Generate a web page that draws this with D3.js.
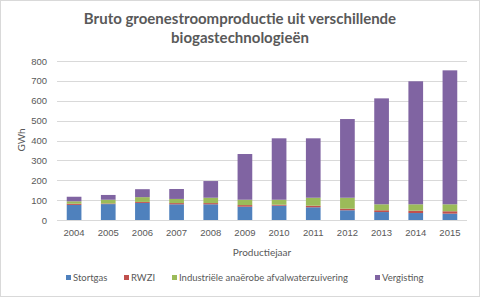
<!DOCTYPE html>
<html>
<head>
<meta charset="utf-8">
<script src="https://cdn.jsdelivr.net/npm/d3@7"></script>
<style>
  body { margin: 0; background: #fff; }
  svg { display: block; font-family: Lato, "Open Sans", sans-serif; }
</style>
</head>
<body>
<div id="chart"></div>
<script>
'use strict';

// values (GWh)
const years      = ['2004','2005','2006','2007','2008','2009','2010','2011','2012','2013','2014','2015'];
const stortgas   = [76, 80, 86, 79, 79, 67, 72, 64, 49, 40, 35, 32];
const rwzi       = [ 6,  3,  5,  6,  6,  8,  5,  8,  8,  9, 12, 12];
const industrie  = [12, 19, 24, 21, 27, 27, 25, 40, 55, 30, 32, 35];
const vergisting = [23, 24, 40, 50, 84, 230, 309, 299, 396, 533, 619, 674];
const seriesNames = ['Stortgas', 'RWZI', 'Industriële anaërobe afvalwaterzuivering', 'Vergisting'];
const yTicks = [0, 100, 200, 300, 400, 500, 600, 700, 800];

const colors = ['#4F81BD', '#C0504D', '#9BBB59', '#8064A2'];
const W = 480, H = 297;
const margin = {left: 57, right: 13, top: 61, bottom: 77};

const rows = years.map((y, i) => ({
    year: y,
    s0: stortgas[i], s1: rwzi[i], s2: industrie[i], s3: vergisting[i]
}));

const svg = d3.select('#chart').append('svg')
    .attr('width', W).attr('height', H);

svg.append('rect')
    .attr('x', 0.5).attr('y', 0.5)
    .attr('width', W - 1).attr('height', H - 1)
    .attr('fill', '#fff').attr('stroke', '#D9D9D9');

let x = d3.scaleBand().domain(years)
    .range([margin.left, W - margin.right])
    .paddingInner(0.57).paddingOuter(0.285);
let y = d3.scaleLinear().domain([0, 800])
    .range([H - margin.bottom, margin.top]);

// gridlines
svg.append('g')
    .selectAll('line')
    .data(yTicks)
    .enter()
    .append('line')
    .attr('x1', margin.left).attr('x2', W - margin.right)
    .attr('y1', d => Math.round(y(d)) + 0.5)
    .attr('y2', d => Math.round(y(d)) + 0.5)
    .attr('stroke', '#D9D9D9');

// stacked bars
let stack = d3.stack().keys(['s0', 's1', 's2', 's3'])(rows);

svg.append('g')
    .selectAll('g')
    .data(stack)
    .enter()
    .append('g')
    .attr('fill', (d, i) => colors[i])
    .selectAll('rect')
    .data(d => d)
    .enter()
    .append('rect')
    .attr('x', d => x(d.data.year))
    .attr('width', x.bandwidth())
    .attr('y', d => y(d[1]))
    .attr('height', d => y(d[0]) - y(d[1]));

// axes labels
let yAxis = svg.append('g')
    .attr('transform', `translate(${margin.left - 10},0)`)
    .call(d3.axisLeft(y).tickValues(yTicks).tickSize(0).tickPadding(0));
yAxis.select('.domain').remove();
yAxis.selectAll('text')
    .attr('fill', '#595959')
    .style('font-size', '9.5px');

let xAxis = svg.append('g')
    .attr('transform', `translate(0,${H - margin.bottom})`)
    .call(d3.axisBottom(x).tickSize(0).tickPadding(9));
xAxis.select('.domain').remove();
xAxis.selectAll('text')
    .attr('fill', '#595959')
    .style('font-size', '9.5px');

svg.append('text')
    .attr('transform', 'translate(25,140) rotate(-90)')
    .attr('text-anchor', 'middle')
    .attr('fill', '#595959')
    .style('font-size', '10px')
    .text('GWh');

svg.append('text')
    .attr('x', 262).attr('y', 256)
    .attr('text-anchor', 'middle')
    .attr('fill', '#595959')
    .style('font-size', '10px')
    .text('Productiejaar');

// title
let title = svg.append('text')
    .attr('text-anchor', 'middle')
    .attr('fill', '#595959')
    .style('font-size', '15px')
    .style('font-weight', 'bold');
title.append('tspan').attr('x', 240).attr('y', 24)
    .text('Bruto groenestroomproductie uit verschillende');
title.append('tspan').attr('x', 240).attr('y', 43)
    .text('biogastechnologieën');

// legend
const legendX = [66, 124, 172, 375];
let legend = svg.append('g')
    .selectAll('g')
    .data(seriesNames)
    .enter()
    .append('g')
    .attr('transform', (d, i) => `translate(${legendX[i]},281)`);
legend.append('rect')
    .attr('x', 0).attr('y', -6)
    .attr('width', 5).attr('height', 5)
    .attr('fill', (d, i) => colors[i]);
legend.append('text')
    .attr('x', 7).attr('y', 0)
    .attr('fill', '#595959')
    .style('font-size', '9.5px')
    .text(d => d);
</script>
</body>
</html>
